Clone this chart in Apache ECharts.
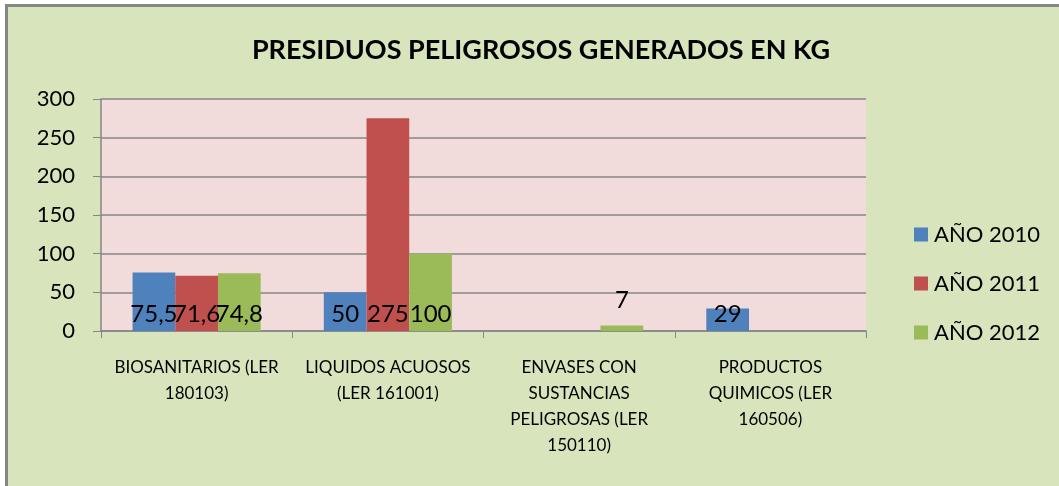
<!DOCTYPE html>
<html>
<head>
<meta charset="utf-8">
<script src="https://cdn.jsdelivr.net/npm/echarts@6/dist/echarts.min.js"></script>
<style>
html,body{margin:0;padding:0;background:#ffffff;}
#c{width:1059px;height:486px;}
</style>
</head>
<body>
<div id="c"></div>
<script>
var title = 'PRESIDUOS PELIGROSOS GENERADOS EN KG';
var categories = [
  'BIOSANITARIOS (LER\n180103)',
  'LIQUIDOS ACUOSOS\n(LER 161001)',
  'ENVASES CON\nSUSTANCIAS\nPELIGROSAS (LER\n150110)',
  'PRODUCTOS\nQUIMICOS (LER\n160506)'
];
var seriesNames = ['AÑO 2010', 'AÑO 2011', 'AÑO 2012'];
var values2010 = [75.5, 50, null, 29];
var values2011 = [71.6, 275, null, null];
var values2012 = [74.8, 100, 7, null];
var yTicks = [0, 50, 100, 150, 200, 250, 300];

var colors = ['#4F81BD', '#C0504D', '#9BBB59'];
var FONT = 'Lato, "Liberation Sans", sans-serif';

function toData(arr) {
  return arr.map(function (v) {
    if (v === null) return null;
    if (v < 20) {
      return { value: v, label: { position: 'top', distance: 13 } };
    }
    return v;
  });
}

var allSeries = [values2010, values2011, values2012].map(function (arr, i) {
  return {
    name: seriesNames[i],
    type: 'bar',
    data: toData(arr),
    barGap: '0%',
    barCategoryGap: '33%',
    itemStyle: { color: colors[i] },
    label: {
      show: true,
      position: 'insideBottom',
      distance: 5,
      color: '#000',
      fontFamily: FONT,
      fontSize: 24,
      lineHeight: 24,
      formatter: function (p) { return String(p.value).replace('.', ','); }
    }
  };
});

var chart = echarts.init(document.getElementById('c'));
chart.setOption({
  backgroundColor: '#ffffff',
  animation: false,
  graphic: [{
    type: 'rect',
    z: -10,
    silent: true,
    shape: { x: 6.5, y: 5.5, width: 1100, height: 600 },
    style: { fill: '#D8E4BC', stroke: '#868686', lineWidth: 3 }
  }],
  title: {
    text: title,
    left: 536,
    textAlign: 'center',
    top: 32,
    textStyle: { fontFamily: FONT, fontWeight: 'bold', fontSize: 27, color: '#000' }
  },
  color: colors,
  legend: {
    orient: 'vertical',
    left: 909,
    top: 218,
    itemWidth: 14,
    itemHeight: 14,
    itemGap: 26,
    icon: 'rect',
    textStyle: { fontFamily: FONT, fontSize: 22, lineHeight: 23, color: '#000', padding: [0, 0, 0, 1] },
    data: seriesNames
  },
  grid: {
    left: 101, right: 193, top: 99, bottom: 155,
    show: true,
    backgroundColor: '#F2DCDB',
    borderWidth: 0
  },
  xAxis: {
    type: 'category',
    data: categories,
    axisLine: { lineStyle: { color: '#868686', width: 1.5 } },
    axisTick: { show: true, length: 7, lineStyle: { color: '#868686' } },
    axisLabel: {
      color: '#000', fontFamily: FONT, fontSize: 17, lineHeight: 26,
      margin: 24, interval: 0
    },
    splitLine: { show: false }
  },
  yAxis: {
    type: 'value',
    min: yTicks[0],
    max: yTicks[yTicks.length - 1],
    interval: 50,
    axisLine: { show: true, lineStyle: { color: '#868686', width: 1.5 } },
    axisTick: { show: true, length: 8, lineStyle: { color: '#868686' } },
    axisLabel: { color: '#000', fontFamily: FONT, fontSize: 22, margin: 26 },
    splitLine: { show: true, lineStyle: { color: '#868686', width: 1.5 } }
  },
  series: allSeries
});
</script>
</body>
</html>
